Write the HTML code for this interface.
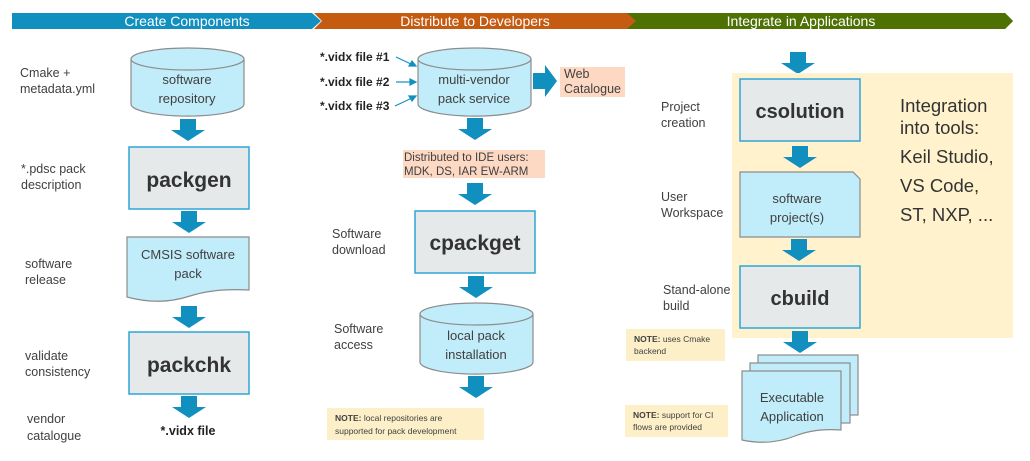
<!DOCTYPE html>
<html><head><meta charset="utf-8"><style>
body{margin:0;background:#fff}
svg text{font-family:"Liberation Sans",sans-serif}
</style></head><body>
<svg width="1030" height="456" viewBox="0 0 1030 456" xmlns="http://www.w3.org/2000/svg">
<defs>
<g id="dn"><polygon points="-8,0 8,0 8,11 17,11 0,22 -17,11 -8,11" fill="#1190c0"/></g>
</defs>
<!-- banners -->
<polygon points="1013,13 1005,13 1005,13 1013,21 1005,29 624,29 632,21 624,13" fill="#4e7103"/>
<polygon points="1005,13 1013,21 1005,29" fill="#4e7103"/>
<polygon points="314,13 627,13 636,21 627,29 314,29 322,21" fill="#c55a11"/>
<polygon points="12,13 312,13 321,21 312,29 12,29" fill="#1190c0"/>
<text x="187" y="26" fill="#fff" font-size="14" text-anchor="middle">Create Components</text>
<text x="475" y="26" fill="#fff" font-size="14" text-anchor="middle">Distribute to Developers</text>
<text x="801" y="26" fill="#fff" font-size="14" text-anchor="middle">Integrate in Applications</text>

<g font-size="12.5" fill="#404040">
<text x="20" y="77">Cmake +</text><text x="20" y="93">metadata.yml</text>
<text x="21" y="173">*.pdsc pack</text><text x="21" y="189">description</text>
<text x="25" y="268">software</text><text x="25" y="284">release</text>
<text x="25" y="360">validate</text><text x="25" y="376">consistency</text>
<text x="27" y="423">vendor</text><text x="27" y="440">catalogue</text>
<text x="332" y="238">Software</text><text x="332" y="254">download</text>
<text x="334" y="333">Software</text><text x="334" y="349">access</text>
<text x="661" y="111">Project</text><text x="661" y="127">creation</text>
<text x="661" y="201">User</text><text x="661" y="217">Workspace</text>
<text x="663" y="294">Stand-alone</text><text x="663" y="310">build</text>
</g>

<!-- col1 -->
<path d="M131,59 V104 A56,12 0 0 0 244,104 V59" fill="#c1ecfa" stroke="#8c8c8c" stroke-width="1.2"/>
<ellipse cx="187.5" cy="59" rx="56.5" ry="11" fill="#c1ecfa" stroke="#8c8c8c" stroke-width="1.2"/>
<text x="187" y="84" font-size="13" fill="#404040" text-anchor="middle">software</text>
<text x="187" y="103" font-size="13" fill="#404040" text-anchor="middle">repository</text>
<use href="#dn" x="188" y="119"/>
<rect x="129" y="147" width="120" height="62" fill="#e5e9e9" stroke="#2fa6d8" stroke-width="1.5"/>
<text x="189" y="187" font-size="21" font-weight="bold" fill="#333" text-anchor="middle">packgen</text>
<use href="#dn" x="189" y="211"/>
<path d="M127,237 H249 V290 Q215,288 190,296 Q160,306 127,297 Z" fill="#c1ecfa" stroke="#8c8c8c" stroke-width="1.2"/>
<text x="188" y="259" font-size="13" fill="#404040" text-anchor="middle">CMSIS software</text>
<text x="188" y="278" font-size="13" fill="#404040" text-anchor="middle">pack</text>
<use href="#dn" x="189" y="306"/>
<rect x="129" y="332" width="120" height="62" fill="#e5e9e9" stroke="#2fa6d8" stroke-width="1.5"/>
<text x="189" y="372" font-size="21" font-weight="bold" fill="#333" text-anchor="middle">packchk</text>
<use href="#dn" x="189" y="396"/>
<text x="188" y="435" font-size="12.5" font-weight="bold" fill="#222" text-anchor="middle">*.vidx file</text>

<!-- col2 -->
<g font-size="12" font-weight="bold" fill="#222">
<text x="320" y="61">*.vidx file #1</text>
<text x="320" y="86">*.vidx file #2</text>
<text x="320" y="110">*.vidx file #3</text>
</g>
<g stroke="#1190c0" stroke-width="1.2" fill="#1190c0">
<line x1="396" y1="57" x2="413" y2="65"/><polygon points="416,66 409,66 412,61"/>
<line x1="396" y1="82" x2="412" y2="82"/><polygon points="416,82 410,79 410,85"/>
<line x1="395" y1="106" x2="412" y2="98"/><polygon points="416,96 412,101 409,96"/>
</g>
<path d="M418,59 V104 A56,12 0 0 0 531,104 V59" fill="#c1ecfa" stroke="#8c8c8c" stroke-width="1.2"/>
<ellipse cx="474.5" cy="59" rx="56.5" ry="11" fill="#c1ecfa" stroke="#8c8c8c" stroke-width="1.2"/>
<text x="474" y="84" font-size="13" fill="#404040" text-anchor="middle">multi-vendor</text>
<text x="474" y="103" font-size="13" fill="#404040" text-anchor="middle">pack service</text>
<polygon points="533,73 545,73 545,65 557,81 545,97 545,89 533,89" fill="#1190c0"/>
<rect x="560" y="67" width="65" height="30" fill="#fdd9c4"/>
<text x="564" y="78" font-size="12.5" fill="#404040">Web</text>
<text x="564" y="93" font-size="12.5" fill="#404040">Catalogue</text>
<use href="#dn" x="475" y="118"/>
<rect x="403" y="150" width="142" height="28" fill="#fdd9c4"/>
<text x="404" y="161" font-size="11.5" fill="#404040">Distributed to IDE users:</text>
<text x="404" y="175" font-size="11.5" fill="#404040">MDK, DS, IAR EW-ARM</text>
<use href="#dn" x="475" y="183"/>
<rect x="415" y="211" width="120" height="62" fill="#e5e9e9" stroke="#2fa6d8" stroke-width="1.5"/>
<text x="475" y="250" font-size="21" font-weight="bold" fill="#333" text-anchor="middle">cpackget</text>
<use href="#dn" x="476" y="276"/>
<path d="M420,314 V362 A56,12 0 0 0 533,362 V314" fill="#c1ecfa" stroke="#8c8c8c" stroke-width="1.2"/>
<ellipse cx="476.5" cy="314" rx="56.5" ry="11" fill="#c1ecfa" stroke="#8c8c8c" stroke-width="1.2"/>
<text x="476" y="340" font-size="13" fill="#404040" text-anchor="middle">local pack</text>
<text x="476" y="359" font-size="13" fill="#404040" text-anchor="middle">installation</text>
<use href="#dn" x="476" y="376"/>
<rect x="327" y="408" width="157" height="32" fill="#fdf0c8"/>
<text x="335" y="421" font-size="8.5" fill="#404040"><tspan font-weight="bold">NOTE:</tspan> local repositories are</text>
<text x="335" y="434" font-size="8.5" fill="#404040">supported for pack development</text>

<!-- col3 -->
<use href="#dn" x="798" y="52"/>
<rect x="732" y="73" width="281" height="265" fill="#fff2cc"/>
<rect x="740" y="79" width="120" height="62" fill="#e5e9e9" stroke="#2fa6d8" stroke-width="1.5"/>
<text x="800" y="118" font-size="20" font-weight="bold" fill="#333" text-anchor="middle">csolution</text>
<use href="#dn" x="800" y="146"/>
<path d="M740,172 H853 L860,179 V237 H740 Z" fill="#c1ecfa" stroke="#8c8c8c" stroke-width="1.2"/>
<text x="797" y="203" font-size="13" fill="#404040" text-anchor="middle">software</text>
<text x="797" y="222" font-size="13" fill="#404040" text-anchor="middle">project(s)</text>
<use href="#dn" x="799" y="239"/>
<rect x="740" y="266" width="120" height="62" fill="#e5e9e9" stroke="#2fa6d8" stroke-width="1.5"/>
<text x="800" y="305" font-size="20" font-weight="bold" fill="#333" text-anchor="middle">cbuild</text>
<use href="#dn" x="800" y="331"/>
<g font-size="18.5" fill="#333">
<text x="900" y="112">Integration</text><text x="900" y="134">into tools:</text>
<text x="900" y="163">Keil Studio,</text><text x="900" y="192">VS Code,</text>
<text x="900" y="221">ST, NXP, ...</text>
</g>
<rect x="758" y="355" width="100" height="60" fill="#c1ecfa" stroke="#8c8c8c" stroke-width="1.2"/>
<rect x="750" y="363" width="100" height="60" fill="#c1ecfa" stroke="#8c8c8c" stroke-width="1.2"/>
<path d="M742,371 H841 V430 Q815,428 795,436 Q770,446 742,440 Z" fill="#c1ecfa" stroke="#8c8c8c" stroke-width="1.2"/>
<text x="792" y="402" font-size="13" fill="#404040" text-anchor="middle">Executable</text>
<text x="792" y="421" font-size="13" fill="#404040" text-anchor="middle">Application</text>
<rect x="626" y="329" width="99" height="32" fill="#fdf0c8"/>
<text x="634" y="342" font-size="8.5" fill="#404040"><tspan font-weight="bold">NOTE:</tspan> uses Cmake</text>
<text x="634" y="354" font-size="8.5" fill="#404040">backend</text>
<rect x="625" y="405" width="103" height="32" fill="#fdf0c8"/>
<text x="633" y="418" font-size="8.5" fill="#404040"><tspan font-weight="bold">NOTE:</tspan> support for CI</text>
<text x="633" y="430" font-size="8.5" fill="#404040">flows are provided</text>
</svg>
</body></html>
